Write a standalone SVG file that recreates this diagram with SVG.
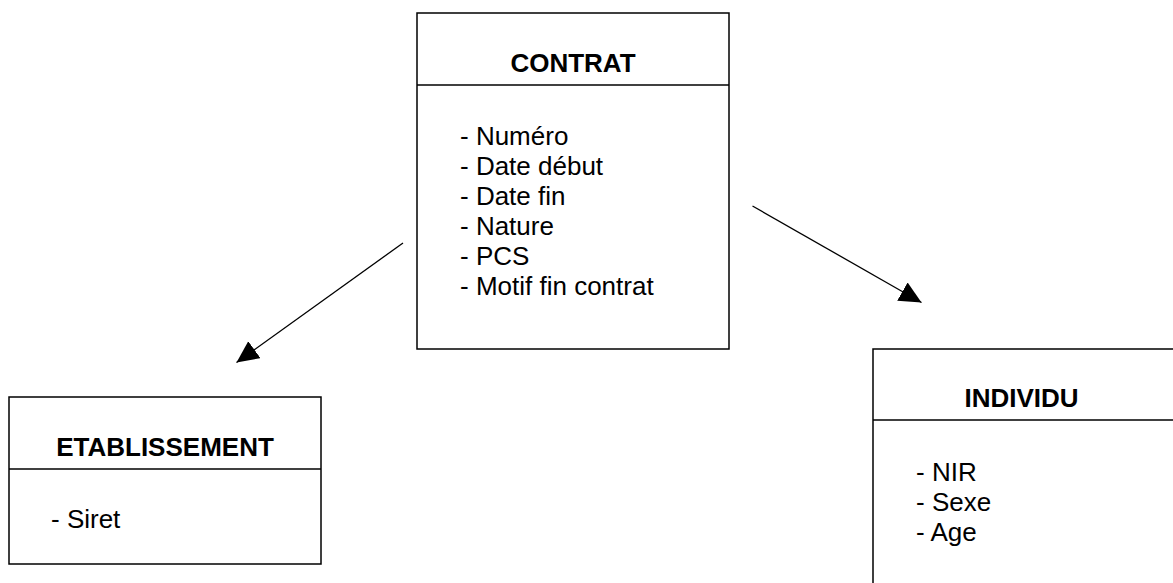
<svg xmlns="http://www.w3.org/2000/svg" width="1173" height="583" viewBox="0 0 1173 583">
  <style>
    .box { fill: #ffffff; stroke: #000000; stroke-width: 1.5; }
    .sep { stroke: #000000; stroke-width: 1.5; }
    .title { font-family: "Liberation Sans", Arial, sans-serif; font-size: 26px; font-weight: bold; fill: #000000; text-anchor: middle; }
    .attr { font-family: "Liberation Sans", Arial, sans-serif; font-size: 26px; fill: #000000; }
    .link { stroke: #000000; stroke-width: 1.3; fill: none; marker-end: url(#arrow); }
  </style>
  <defs>
    <marker id="arrow" markerUnits="userSpaceOnUse" markerWidth="24" markerHeight="22" refX="22" refY="10.5" orient="auto">
      <path d="M0,0 L22,10.5 L0,21 Z" fill="#000000"/>
    </marker>
  </defs>

  <rect width="1173" height="583" fill="#ffffff"/>

  <g id="connectors">
    <line class="link" x1="403" y1="243" x2="236.5" y2="362.5"/>
    <line class="link" x1="752.5" y1="206" x2="921.5" y2="302.5"/>
  </g>

  <g id="contrat">
    <rect class="box" x="417" y="13" width="312" height="336"/>
    <line class="sep" x1="417" y1="85" x2="729" y2="85"/>
    <text class="title" x="573" y="71.5">CONTRAT</text>
    <text class="attr" x="460" y="145">- Numéro</text>
    <text class="attr" x="460" y="175">- Date début</text>
    <text class="attr" x="460" y="205">- Date fin</text>
    <text class="attr" x="460" y="235">- Nature</text>
    <text class="attr" x="460" y="265">- PCS</text>
    <text class="attr" x="460" y="295">- Motif fin contrat</text>
  </g>

  <g id="etablissement">
    <rect class="box" x="9" y="397" width="312" height="167"/>
    <line class="sep" x1="9" y1="469" x2="321" y2="469"/>
    <text class="title" x="165" y="456">ETABLISSEMENT</text>
    <text class="attr" x="51" y="528">- Siret</text>
  </g>

  <g id="individu">
    <rect class="box" x="873" y="349" width="330" height="260"/>
    <line class="sep" x1="873" y1="420" x2="1173" y2="420"/>
    <text class="title" x="1021.5" y="407">INDIVIDU</text>
    <text class="attr" x="916" y="481">- NIR</text>
    <text class="attr" x="916" y="511">- Sexe</text>
    <text class="attr" x="916" y="541">- Age</text>
  </g>
</svg>
